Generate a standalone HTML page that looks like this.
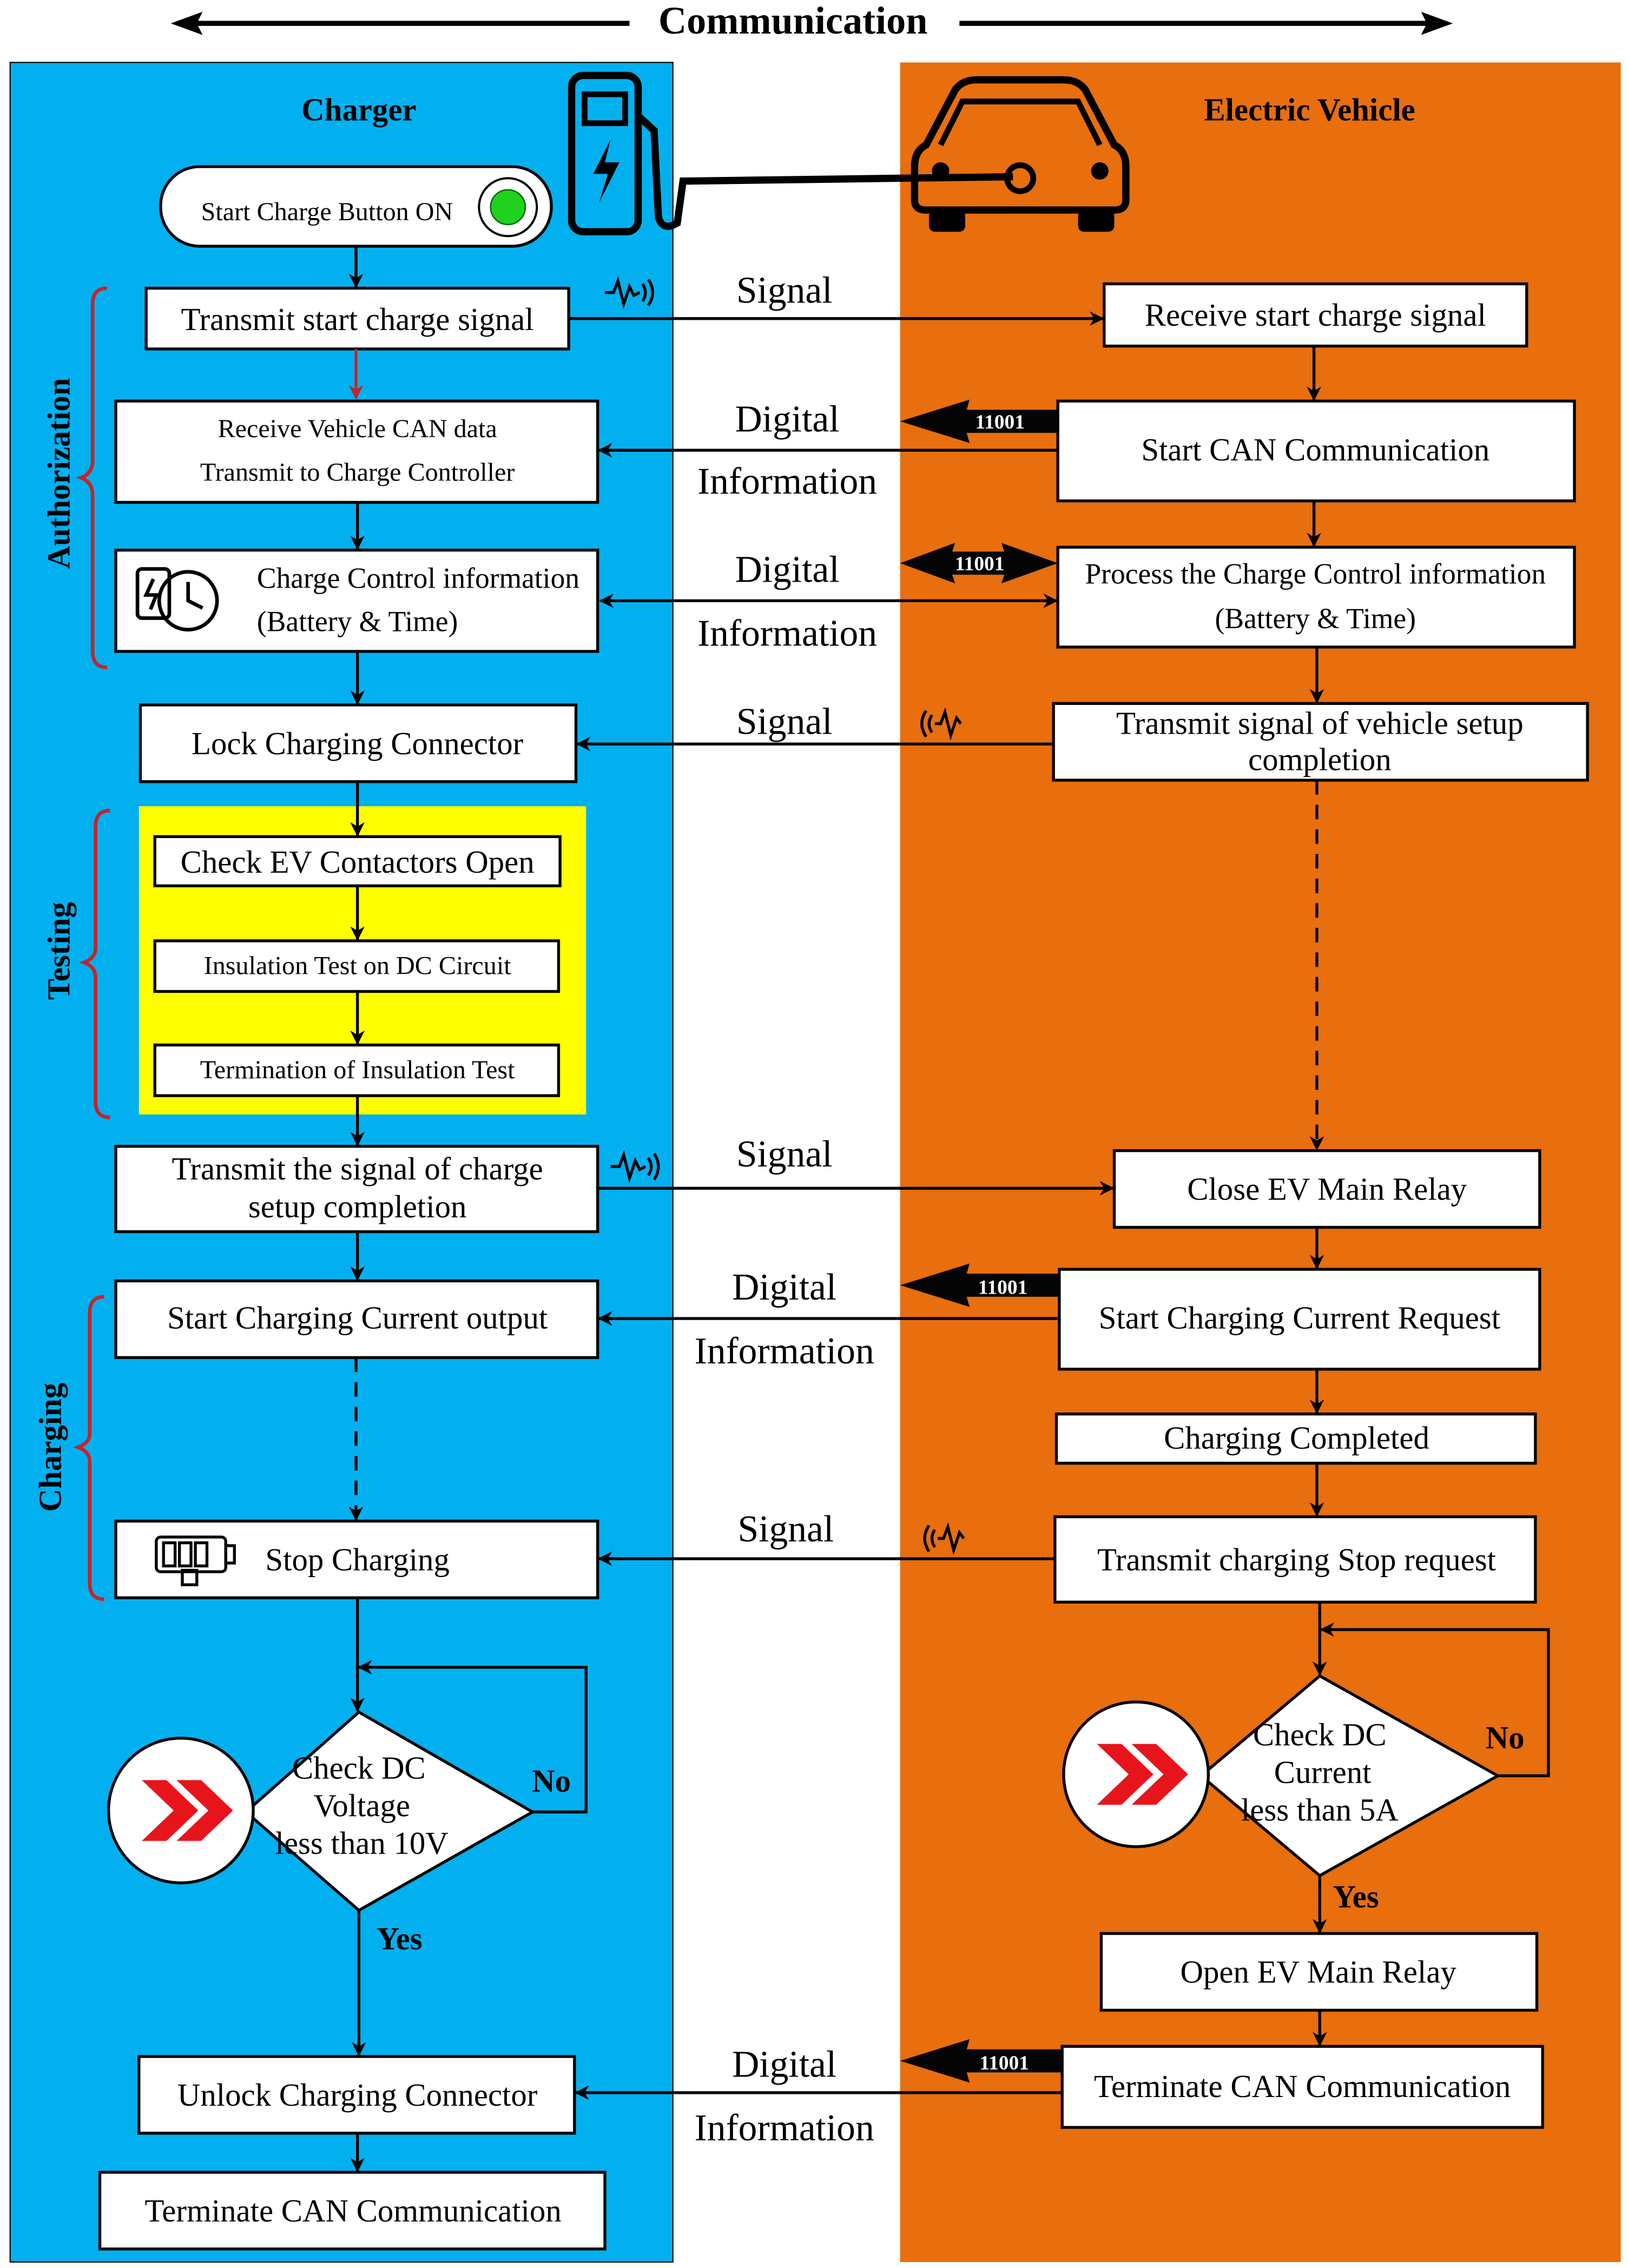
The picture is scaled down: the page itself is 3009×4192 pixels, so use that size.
<!DOCTYPE html>
<html><head><meta charset="utf-8"><style>
html,body{margin:0;padding:0;background:#fff}
svg{display:block}
text{font-family:"Liberation Serif",serif;fill:#000}
text.w{fill:#fff}
</style></head><body>
<svg width="3009" height="4192" viewBox="0 0 1125 1567" xmlns="http://www.w3.org/2000/svg">
<defs>
<marker id="a" markerWidth="10" markerHeight="10" refX="9" refY="5" orient="auto" markerUnits="userSpaceOnUse"><path d="M0,0 L10,5 L0,10 L3,5 Z" fill="#000"/></marker>
<marker id="as" markerWidth="10" markerHeight="10" refX="1" refY="5" orient="auto" markerUnits="userSpaceOnUse"><path d="M10,0 L0,5 L10,10 L7,5 Z" fill="#000"/></marker>
<marker id="ar" markerWidth="10" markerHeight="10" refX="9" refY="5" orient="auto" markerUnits="userSpaceOnUse"><path d="M0,0 L10,5 L0,10 L3,5 Z" fill="#c0262d"/></marker>
</defs>
<rect width="1125" height="1567" fill="#fff"/>
<rect x="7" y="43" width="458" height="1520" fill="#02B0F0" stroke="#000" stroke-width="0.8"/>
<rect x="622" y="43" width="498" height="1520" fill="#E86E0E"/>
<!-- top communication arrow -->
<line x1="132" y1="16" x2="435" y2="16" stroke="#000" stroke-width="3.5"/>
<path d="M118,16 L140,8 L136,16 L140,24 Z" fill="#000"/>
<line x1="663" y1="16" x2="990" y2="16" stroke="#000" stroke-width="3.5"/>
<path d="M1004,16 L982,8 L986,16 L982,24 Z" fill="#000"/>
<text x="548" y="23" font-size="27" font-weight="bold" text-anchor="middle">Communication</text>
<text x="248" y="83" font-size="22" font-weight="bold" text-anchor="middle">Charger</text>
<text x="905" y="83" font-size="22" font-weight="bold" text-anchor="middle">Electric Vehicle</text>
<!-- start button -->
<rect x="111" y="115" width="270" height="55" rx="27" fill="#fff" stroke="#000" stroke-width="2"/>
<text x="226" y="152" font-size="18" text-anchor="middle">Start Charge Button ON</text>
<circle cx="351" cy="143" r="20" fill="#fff" stroke="#000" stroke-width="1.5"/>
<circle cx="351" cy="143" r="12" fill="#1fd21f" stroke="#0a6a0a"/>
<!-- charging station icon -->
<rect x="395" y="52" width="46" height="108" rx="8" fill="none" stroke="#000" stroke-width="5"/>
<rect x="404" y="65" width="28" height="20" fill="none" stroke="#000" stroke-width="4"/>
<path d="M422,96 L410,120 L420,120 L414,140 L428,112 L418,112 Z" fill="#000"/>
<path d="M441,80 L452,90 L455,150 Q458,160 468,154 L472,125 L700,122" fill="none" stroke="#000" stroke-width="5"/>
<!-- car icon -->
<path d="M640,100 L660,62 Q665,55 675,55 L735,55 Q745,55 750,62 L770,100 Q778,104 778,115 L778,138 Q778,145 770,145 L640,145 Q632,145 632,138 L632,115 Q632,104 640,100 Z" fill="none" stroke="#000" stroke-width="5"/>
<path d="M650,100 L665,70 L745,70 L760,100" fill="none" stroke="#000" stroke-width="4"/>
<rect x="642" y="145" width="25" height="15" rx="4" fill="#000"/><rect x="745" y="145" width="25" height="15" rx="4" fill="#000"/>
<circle cx="705" cy="123" r="9" fill="none" stroke="#000" stroke-width="4"/>
<circle cx="650" cy="118" r="6" fill="#000"/><circle cx="760" cy="118" r="6" fill="#000"/>

<g fill="#fff" stroke="#000" stroke-width="2">
<rect x="101" y="199" width="292" height="42"/>
<rect x="763" y="196" width="292" height="43"/>
<rect x="80" y="277" width="333" height="70"/>
<rect x="731" y="277" width="357" height="69"/>
<rect x="80" y="380" width="333" height="70"/>
<rect x="731" y="378" width="357" height="69"/>
<rect x="97" y="487" width="301" height="53"/>
<rect x="728" y="486" width="369" height="53"/>
</g>
<rect x="96" y="557" width="309" height="213" fill="#ffff00"/>
<g fill="#fff" stroke="#000" stroke-width="2">
<rect x="107" y="578" width="280" height="34"/>
<rect x="107" y="650" width="279" height="35"/>
<rect x="107" y="722" width="279" height="35"/>
<rect x="80" y="792" width="333" height="59"/>
<rect x="770" y="795" width="294" height="53"/>
<rect x="80" y="885" width="333" height="53"/>
<rect x="732" y="877" width="332" height="69"/>
<rect x="730" y="977" width="331" height="34"/>
<rect x="80" y="1051" width="333" height="53"/>
<rect x="729" y="1048" width="332" height="59"/>
<polygon points="170,1252 248,1183 368,1252 248,1320"/>
<polygon points="830,1227 912,1158 1035,1227 912,1296"/>
<circle cx="125" cy="1251" r="50"/>
<circle cx="785" cy="1226" r="50"/>
<rect x="761" y="1336" width="301" height="53"/>
<rect x="734" y="1414" width="332" height="56"/>
<rect x="96" y="1421" width="301" height="53"/>
<rect x="69" y="1501" width="349" height="53"/>
</g>
<!-- red >> -->
<path d="M98,1230 L115,1230 L137,1251 L115,1272 L98,1272 L120,1251 Z M122,1230 L139,1230 L161,1251 L139,1272 L122,1272 L144,1251 Z" fill="#e8141b"/>
<path d="M758,1205 L775,1205 L797,1226 L775,1247 L758,1247 L780,1226 Z M782,1205 L799,1205 L821,1226 L799,1247 L782,1247 L804,1226 Z" fill="#e8141b"/>

<!-- texts -->
<g font-size="22" text-anchor="middle">
<text x="247" y="228">Transmit start charge signal</text>
<text x="909" y="225">Receive start charge signal</text>
<text x="909" y="318">Start CAN Communication</text>
<text x="247" y="521">Lock Charging Connector</text>
<text x="912" y="507">Transmit signal of vehicle setup</text>
<text x="912" y="532">completion</text>
<text x="247" y="603">Check EV Contactors Open</text>
<text x="247" y="815">Transmit the signal of charge</text>
<text x="247" y="841">setup completion</text>
<text x="917" y="829">Close EV Main Relay</text>
<text x="247" y="918">Start Charging Current output</text>
<text x="898" y="918">Start Charging Current Request</text>
<text x="896" y="1001">Charging Completed</text>
<text x="247" y="1085">Stop Charging</text>
<text x="896" y="1085">Transmit charging Stop request</text>
<text x="911" y="1370">Open EV Main Relay</text>
<text x="900" y="1449">Terminate CAN Communication</text>
<text x="247" y="1455">Unlock Charging Connector</text>
<text x="244" y="1535">Terminate CAN Communication</text>
<text x="248" y="1229">Check DC</text>
<text x="250" y="1255">Voltage</text>
<text x="250" y="1281">less than 10V</text>
<text x="912" y="1206">Check DC</text>
<text x="914" y="1232">Current</text>
<text x="912" y="1258">less than 5A</text>
</g>
<g font-size="18" text-anchor="middle">
<text x="247" y="302">Receive Vehicle CAN data</text>
<text x="247" y="332">Transmit to Charge Controller</text>
<text x="247" y="673">Insulation Test on DC Circuit</text>
<text x="247" y="745">Termination of Insulation Test</text>
</g>
<g font-size="20" text-anchor="middle">
<text x="289" y="406">Charge Control information</text>
<text x="247" y="436">(Battery &amp; Time)</text>
<text x="909" y="403">Process the Charge Control information</text>
<text x="909" y="434">(Battery &amp; Time)</text>
</g>
<g font-size="26" text-anchor="middle">
<text x="542" y="209">Signal</text>
<text x="544" y="298">Digital</text>
<text x="544" y="341">Information</text>
<text x="544" y="402">Digital</text>
<text x="544" y="446">Information</text>
<text x="542" y="507">Signal</text>
<text x="542" y="806">Signal</text>
<text x="542" y="898">Digital</text>
<text x="542" y="942">Information</text>
<text x="543" y="1065">Signal</text>
<text x="542" y="1435">Digital</text>
<text x="542" y="1479">Information</text>
</g>
<g font-size="22" font-weight="bold" text-anchor="middle">
<text x="381" y="1238">No</text>
<text x="276" y="1347">Yes</text>
<text x="1040" y="1208">No</text>
<text x="937" y="1318">Yes</text>
</g>
<!-- braces and rotated labels -->
<g fill="none" stroke="#c0262d" stroke-width="2.5">
<path d="M74,199 Q64,199 64,210 L64,318 Q64,327 56,330 Q64,333 64,342 L64,450 Q64,461 74,461"/>
<path d="M76,560 Q66,560 66,571 L66,655 Q66,662 58,665 Q66,668 66,675 L66,761 Q66,772 76,772"/>
<path d="M72,896 Q62,896 62,907 L62,990 Q62,997 54,1000 Q62,1003 62,1010 L62,1094 Q62,1105 72,1105"/>
</g>
<g font-size="22" font-weight="bold" text-anchor="middle">
<text transform="translate(48,327) rotate(-90)">Authorization</text>
<text transform="translate(48,657) rotate(-90)">Testing</text>
<text transform="translate(42,1000) rotate(-90)">Charging</text>
</g>
<!-- vertical connectors -->
<g stroke="#000" stroke-width="2" fill="none" marker-end="url(#a)">
<line x1="246" y1="170" x2="246" y2="198"/>
<line x1="247" y1="347" x2="247" y2="379"/>
<line x1="247" y1="450" x2="247" y2="486"/>
<line x1="247" y1="540" x2="247" y2="577"/>
<line x1="247" y1="612" x2="247" y2="649"/>
<line x1="247" y1="685" x2="247" y2="721"/>
<line x1="247" y1="757" x2="247" y2="791"/>
<line x1="247" y1="851" x2="247" y2="884"/>
<line x1="246" y1="938" x2="246" y2="1050" stroke-dasharray="10,7"/>
<line x1="247" y1="1104" x2="247" y2="1182"/>
<line x1="248" y1="1320" x2="248" y2="1420"/>
<line x1="247" y1="1474" x2="247" y2="1500"/>
<polyline points="368,1252 405,1252 405,1152 248,1152"/>
<line x1="908" y1="239" x2="908" y2="276"/>
<line x1="908" y1="346" x2="908" y2="377"/>
<line x1="910" y1="447" x2="910" y2="485"/>
<line x1="910" y1="539" x2="910" y2="794" stroke-dasharray="10,7"/>
<line x1="910" y1="848" x2="910" y2="876"/>
<line x1="910" y1="946" x2="910" y2="976"/>
<line x1="910" y1="1011" x2="910" y2="1047"/>
<line x1="912" y1="1107" x2="912" y2="1157"/>
<line x1="912" y1="1296" x2="912" y2="1335"/>
<line x1="912" y1="1389" x2="912" y2="1413"/>
<polyline points="1035,1227 1070,1227 1070,1126 913,1126"/>
<!-- horizontal -->
<line x1="393" y1="220" x2="762" y2="220"/>
<line x1="731" y1="311" x2="414" y2="311"/>
<line x1="415" y1="415" x2="730" y2="415" marker-start="url(#as)"/>
<line x1="728" y1="514" x2="399" y2="514"/>
<line x1="413" y1="821" x2="769" y2="821"/>
<line x1="732" y1="911" x2="414" y2="911"/>
<line x1="729" y1="1077" x2="414" y2="1077"/>
<line x1="734" y1="1446" x2="398" y2="1446"/>
</g>
<line x1="246" y1="241" x2="246" y2="275" stroke="#c0262d" stroke-width="2" marker-end="url(#ar)"/>
<!-- 11001 black arrows -->
<g fill="#050505">
<path d="M622,291 L670,276 L668,283 L731,283 L731,299 L668,299 L670,306 Z"/>
<path d="M622,389 L660,375 L658,381 L694,381 L692,375 L731,389 L692,403 L694,397 L658,397 L660,403 Z"/>
<path d="M622,888 L670,873 L668,880 L732,880 L732,896 L668,896 L670,903 Z"/>
<path d="M622,1424 L670,1409 L668,1416 L734,1416 L734,1432 L668,1432 L670,1439 Z"/>
</g>
<g font-size="14" font-weight="bold" text-anchor="middle">
<text class="w" x="691" y="296">11001</text>
<text class="w" x="677" y="394">11001</text>
<text class="w" x="693" y="894">11001</text>
<text class="w" x="694" y="1430">11001</text>
</g>
<!-- signal icons -->
<g fill="none" stroke="#000" stroke-width="2">
<path d="M418,202 L424,202 L427,194 L431,210 L435,198 L438,204 L442,202"/><path d="M444,196 Q448,202 444,208 M448,193 Q454,202 448,211"/>
<path d="M422,806 L428,806 L431,798 L435,814 L439,802 L442,808 L446,806"/><path d="M448,800 Q452,806 448,812 M452,797 Q458,806 452,815"/>
<path d="M640,491 Q634,500 640,509 M644,494 Q640,500 644,506"/><path d="M646,500 L650,500 L653,492 L657,508 L661,496 L664,500"/>
<path d="M642,1054 Q636,1063 642,1072 M646,1057 Q642,1063 646,1069"/><path d="M648,1063 L652,1063 L655,1055 L659,1071 L663,1059 L666,1063"/>
</g>
<!-- clock/battery icon -->
<g fill="none" stroke="#000" stroke-width="2.5">
<rect x="95" y="393" width="22" height="34" rx="3"/>
<circle cx="130" cy="415" r="20"/>
<path d="M130,402 L130,415 L140,420"/>
<path d="M106,400 L101,411 L108,411 L104,421"/>
</g>
<g fill="none" stroke="#000" stroke-width="2">
<rect x="108" y="1062" width="48" height="24" rx="3"/>
<rect x="156" y="1068" width="6" height="12"/>
<rect x="113" y="1066" width="8" height="16"/><rect x="124" y="1066" width="8" height="16"/><rect x="135" y="1066" width="8" height="16"/>
<rect x="126" y="1085" width="10" height="10"/>
</g>
</svg>
</body></html>
